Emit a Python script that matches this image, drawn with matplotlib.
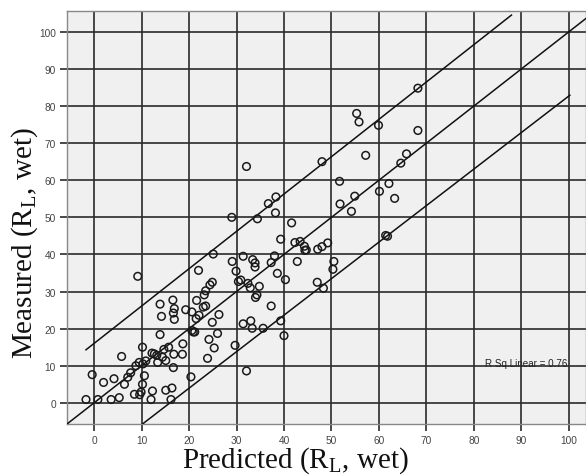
import matplotlib
matplotlib.use("Agg")
import matplotlib.pyplot as plt
import numpy as np

plt.rcParams['mathtext.fontset'] = 'custom'
plt.rcParams['mathtext.rm'] = 'Liberation Serif'
plt.rcParams['mathtext.it'] = 'Liberation Serif:italic'

# ---- data ----
predicted = [
    -1.7, -0.4, 0.8, 2.0, 3.6, 4.2, 5.3, 5.8, 6.4, 7.1, 7.7, 8.5, 8.8, 9.2, 9.5, 9.9, 9.6,
    10.2, 10.2, 10.3, 10.6, 10.9, 12.0, 12.3, 12.2, 12.7, 13.2, 13.4, 13.9, 13.9, 14.2,
    14.4, 14.7, 15.1, 15.1, 15.7, 16.2, 16.4, 16.6, 16.7, 16.7, 16.8, 16.9, 16.9, 18.6,
    18.7, 19.3, 20.4, 20.6, 20.6, 20.9, 21.2, 21.5, 21.6, 22.0, 22.1, 23.0, 23.2, 23.5,
    23.5, 23.9, 24.2, 24.4, 24.9, 24.9, 25.1, 25.3, 26.0, 26.3, 29.1, 29.7, 29.9, 30.4,
    30.9, 31.4, 31.4, 32.1, 32.4, 32.9, 33.4, 33.0, 33.3, 33.9, 33.9, 34.0, 34.3, 34.8,
    35.6, 37.3, 37.3, 38.0, 38.6, 39.3, 39.3, 40.0, 40.3, 42.3, 42.8, 43.4, 44.3, 44.4,
    44.7, 47.1, 48.0, 49.2, 50.5, 50.3, 47.0, 48.3, 61.4, 68.2, 55.3, 55.8, 59.9, 68.2,
    48.0, 57.2, 65.8, 64.6, 51.7, 60.1, 62.1, 54.9, 51.8, 54.2, 63.3, 41.6, 32.1, 29.0,
    34.4, 36.7, 38.3, 38.2, 61.8,
]
measured = [
    0.9, 7.6, 0.9, 5.5, 0.9, 6.5, 1.4, 12.5, 5.0, 6.9, 8.1, 2.3, 10.0, 34.1, 10.9, 2.9, 2.2,
    15.0, 5.0, 10.5, 7.3, 11.3, 0.9, 3.2, 13.4, 13.2, 12.8, 10.9, 26.6, 18.4, 23.3,
    12.3, 14.4, 11.4, 3.4, 15.0, 0.9, 4.0, 27.7, 24.2, 9.5, 13.1, 22.5, 25.4, 13.1,
    15.9, 25.1, 7.0, 24.5, 19.5, 19.1, 19.1, 22.7, 27.6, 35.7, 23.6, 25.8, 29.1, 26.1,
    30.2, 12.0, 17.1, 31.8, 32.5, 21.7, 40.1, 14.8, 18.7, 23.8, 38.1, 15.5, 35.5, 32.7,
    33.1, 39.5, 21.3, 8.6, 32.2, 31.0, 38.6, 22.1, 20.1, 37.7, 36.6, 28.4, 29.1, 31.4,
    20.1, 26.1, 37.8, 39.6, 34.9, 44.1, 22.1, 18.1, 33.2, 43.2, 38.1, 43.5, 42.2, 41.1,
    41.2, 41.4, 42.1, 43.1, 38.1, 36.0, 32.5, 30.9, 45.1, 84.8, 78.0, 75.7, 74.8, 73.4,
    65.0, 66.7, 67.1, 64.6, 59.7, 57.0, 59.1, 55.7, 53.6, 51.6, 55.1, 48.5, 63.7, 50.0,
    49.6, 53.7, 55.5, 51.2, 44.9,
]

# fit line and individual prediction interval lines (end points)
fit_x = [-5.7, 103.6]
fit_y = [-5.7, 103.6]
upper_x = [-1.7, 87.9]
upper_y = [14.3, 104.5]
lower_x = [10.0, 100.2]
lower_y = [-5.9, 82.9]

ticks = [0, 10, 20, 30, 40, 50, 60, 70, 80, 90, 100]
r2_text = "R Sq Linear = 0.76"

W, H = 586, 477
fig = plt.figure(figsize=(W / 100, H / 100), dpi=100)
fig.patch.set_facecolor('white')
ax = fig.add_axes([67 / W, (H - 425) / H, (W - 67) / W, (425 - 12) / H])
ax.set_facecolor('#f0f0f0')

ax.set_xlim(-5.7, 103.6)
ax.set_ylim(-5.7, 105.6)
ax.set_xticks(ticks)
ax.set_yticks(ticks)
ax.grid(True, color='#2a2a2a', linewidth=1.2)
ax.set_axisbelow(True)
ax.tick_params(axis='both', length=5, width=1.2, color='#2a2a2a',
               labelsize=7.3, labelcolor='#444444', pad=3)
for lab in ax.get_xticklabels() + ax.get_yticklabels():
    lab.set_fontfamily('Liberation Sans')
for s in ax.spines.values():
    s.set_color('#888888')
    s.set_linewidth(1.0)

ax.plot(fit_x, fit_y, color='#111111', lw=1.1, zorder=3)
ax.plot(upper_x, upper_y, color='#111111', lw=1.1, zorder=3)
ax.plot(lower_x, lower_y, color='#111111', lw=1.1, zorder=3)

ax.scatter(predicted, measured, s=30, facecolors='none', edgecolors='#1a1a1a',
           linewidths=1.1, zorder=4)

ax.text(82.3, 10.7, r2_text, fontsize=7.1, family='Liberation Sans',
        color='#222222', va='center', ha='left', zorder=5)

ax.set_xlabel("Predicted (R$_{\\mathrm{L}}$, wet)", fontsize=21,
              family='Liberation Serif', color='#111111')
ax.set_ylabel("Measured (R$_{\\mathrm{L}}$, wet)", fontsize=21,
              family='Liberation Serif', color='#111111')
ax.xaxis.set_label_coords(0.441, -0.05)
ax.yaxis.set_label_coords(-0.052, 0.44)

fig.savefig("out.png", dpi=100, facecolor='white')
